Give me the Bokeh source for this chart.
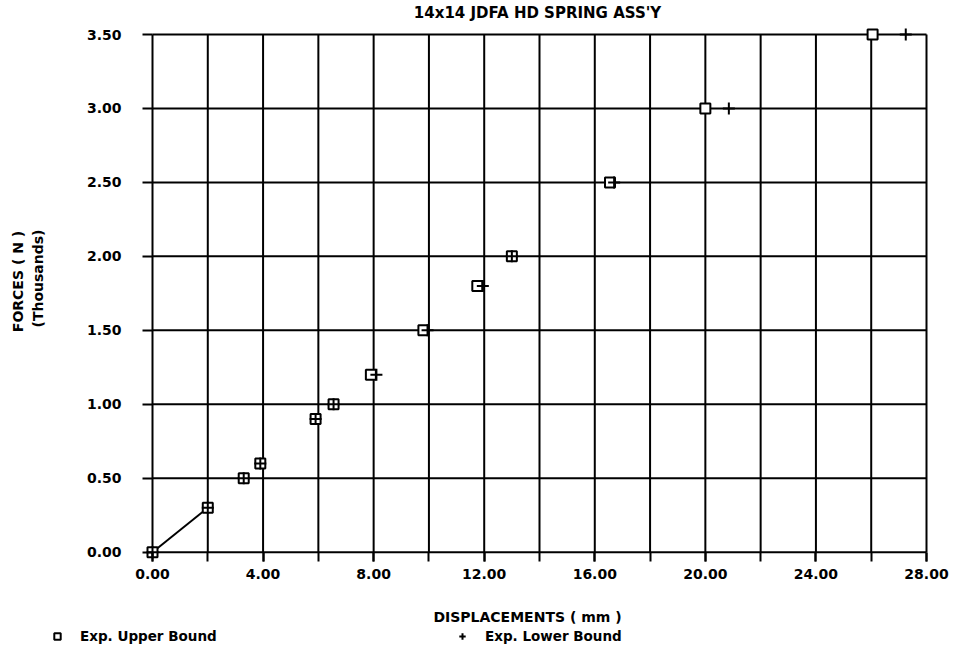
import math
from bokeh.plotting import figure
from bokeh.models import Range1d, FixedTicker, Label, Legend, LegendItem
from bokeh.embed import file_html
from bokeh.resources import INLINE

# ---- data (forces in thousands of N, displacements in mm) ----
force = [0.0, 0.3, 0.5, 0.6, 0.9, 1.0, 1.2, 1.5, 1.8, 2.0, 2.5, 3.0, 3.5]
upper_disp = [0.0, 2.0, 3.3, 3.9, 5.9, 6.55, 7.9, 9.8, 11.75, 13.0, 16.55, 20.0, 26.05]
lower_disp = [0.0, 2.0, 3.3, 3.9, 5.9, 6.55, 8.1, 9.95, 11.95, 13.0, 16.7, 20.85, 27.25]
line_disp = [0.0, 2.0]
line_force = [0.0, 0.3]

x_ticks = [0, 2, 4, 6, 8, 10, 12, 14, 16, 18, 20, 22, 24, 26, 28]
x_label_ticks = [0, 4, 8, 12, 16, 20, 24, 28]
x_tick_labels = ["0.00", "4.00", "8.00", "12.00", "16.00", "20.00", "24.00", "28.00"]
y_ticks = [0.0, 0.5, 1.0, 1.5, 2.0, 2.5, 3.0, 3.5]
y_tick_labels = ["0.00", "0.50", "1.00", "1.50", "2.00", "2.50", "3.00", "3.50"]

title_text = "14x14 JDFA HD SPRING ASS'Y"
x_title = "DISPLACEMENTS ( mm )"
y_title = ["FORCES ( N )", "(Thousands)"]
legend_labels = ["Exp. Upper Bound", "Exp. Lower Bound"]

# ---- layout (pixels) ----
W, H = 954, 646
X_LO_PX, X_HI_PX = 152.0, 926.0      # pixel columns of x = 0 and x = 28
Y_LO_PX, Y_HI_PX = 551.7, 34.0       # pixel rows of y = 0 and y = 3.5
sx = (X_HI_PX - X_LO_PX) / (x_ticks[-1] - x_ticks[0])
sy = (Y_LO_PX - Y_HI_PX) / (y_ticks[-1] - y_ticks[0])


def dx(px):
    return x_ticks[0] + (px - X_LO_PX) / sx


def dy(py):
    return y_ticks[0] + (Y_LO_PX - py) / sy


FONT = "DejaVu Sans"
FS = "14px"

p = figure(width=W, height=H, output_backend="svg", toolbar_location=None,
           title=None,
           x_range=Range1d(dx(0), dx(W)), y_range=Range1d(dy(H), dy(0)),
           min_border=0, min_border_left=0, min_border_right=0,
           min_border_top=0, min_border_bottom=0)
p.outline_line_color = None
p.xgrid.visible = False
p.ygrid.visible = False
p.background_fill_color = "white"
p.border_fill_color = "white"

# grid lines drawn from the tick arrays
nx = len(x_ticks)
ny = len(y_ticks)
p.segment(x0=x_ticks, y0=[y_ticks[0]] * nx, x1=x_ticks, y1=[y_ticks[-1]] * nx,
          line_color="black", line_width=2)
p.segment(x0=[x_ticks[0]] * ny, y0=y_ticks, x1=[x_ticks[-1]] * ny, y1=y_ticks,
          line_color="black", line_width=2)

# connecting line
p.line(line_disp, line_force, line_color="black", line_width=2)

# markers
r_up = p.scatter(upper_disp, force, marker="square", size=10, line_width=2,
                 line_color="black", fill_color="white")
r_lo = p.scatter(lower_disp, force, marker="cross", size=12, line_width=2,
                 line_color="black")

# axes, pinned at the zero lines
xa = p.xaxis[0]
xa.fixed_location = y_ticks[0]
xa.ticker = FixedTicker(ticks=x_label_ticks, minor_ticks=x_ticks)
xa.major_label_overrides = {float(t): s for t, s in zip(x_label_ticks, x_tick_labels)}
ya = p.yaxis[0]
ya.fixed_location = x_ticks[0]
ya.ticker = FixedTicker(ticks=y_ticks)
ya.major_label_overrides = {float(t): s for t, s in zip(y_ticks, y_tick_labels)}

for ax in (xa, ya):
    ax.axis_line_color = None
    ax.major_tick_line_color = "black"
    ax.major_tick_line_width = 2
    ax.minor_tick_line_color = "black"
    ax.minor_tick_line_width = 2
    ax.major_label_text_font = FONT
    ax.major_label_text_font_style = "bold"
    ax.major_label_text_font_size = FS
    ax.major_label_text_color = "black"
xa.major_tick_in = 0
xa.major_tick_out = 9
xa.minor_tick_in = 0
xa.minor_tick_out = 9
xa.major_label_standoff = 8
ya.major_tick_in = 0
ya.major_tick_out = 10
ya.minor_tick_line_color = None
ya.major_label_standoff = 21


def lab(x, y, text, align="center", angle=0.0, size=FS):
    p.add_layout(Label(x=x, y=y, text=text, text_align=align, text_baseline="middle",
                       angle=angle, text_font=FONT, text_font_style="bold",
                       text_font_size=size, text_color="black"))


lab(dx(537), dy(12), title_text, size="15px")
lab(dx(527), dy(616), x_title)
lab(dx(17), dy(281), y_title[0], angle=math.pi / 2)
lab(dx(37), dy(278), y_title[1], angle=math.pi / 2)

# legend: one block per series
for r, text, left_px in ((r_up, legend_labels[0], 49), (r_lo, legend_labels[1], 454)):
    lg = Legend(items=[LegendItem(label=text, renderers=[r])],
                location=(left_px, 2), orientation="horizontal",
                glyph_width=16, glyph_height=16, label_standoff=15,
                padding=0, margin=0, spacing=0,
                border_line_color=None, background_fill_alpha=0,
                label_text_font=FONT, label_text_font_style="bold",
                label_text_font_size="13.5px", label_text_color="black")
    p.add_layout(lg)

open("out.html", "w").write(file_html(p, INLINE))
